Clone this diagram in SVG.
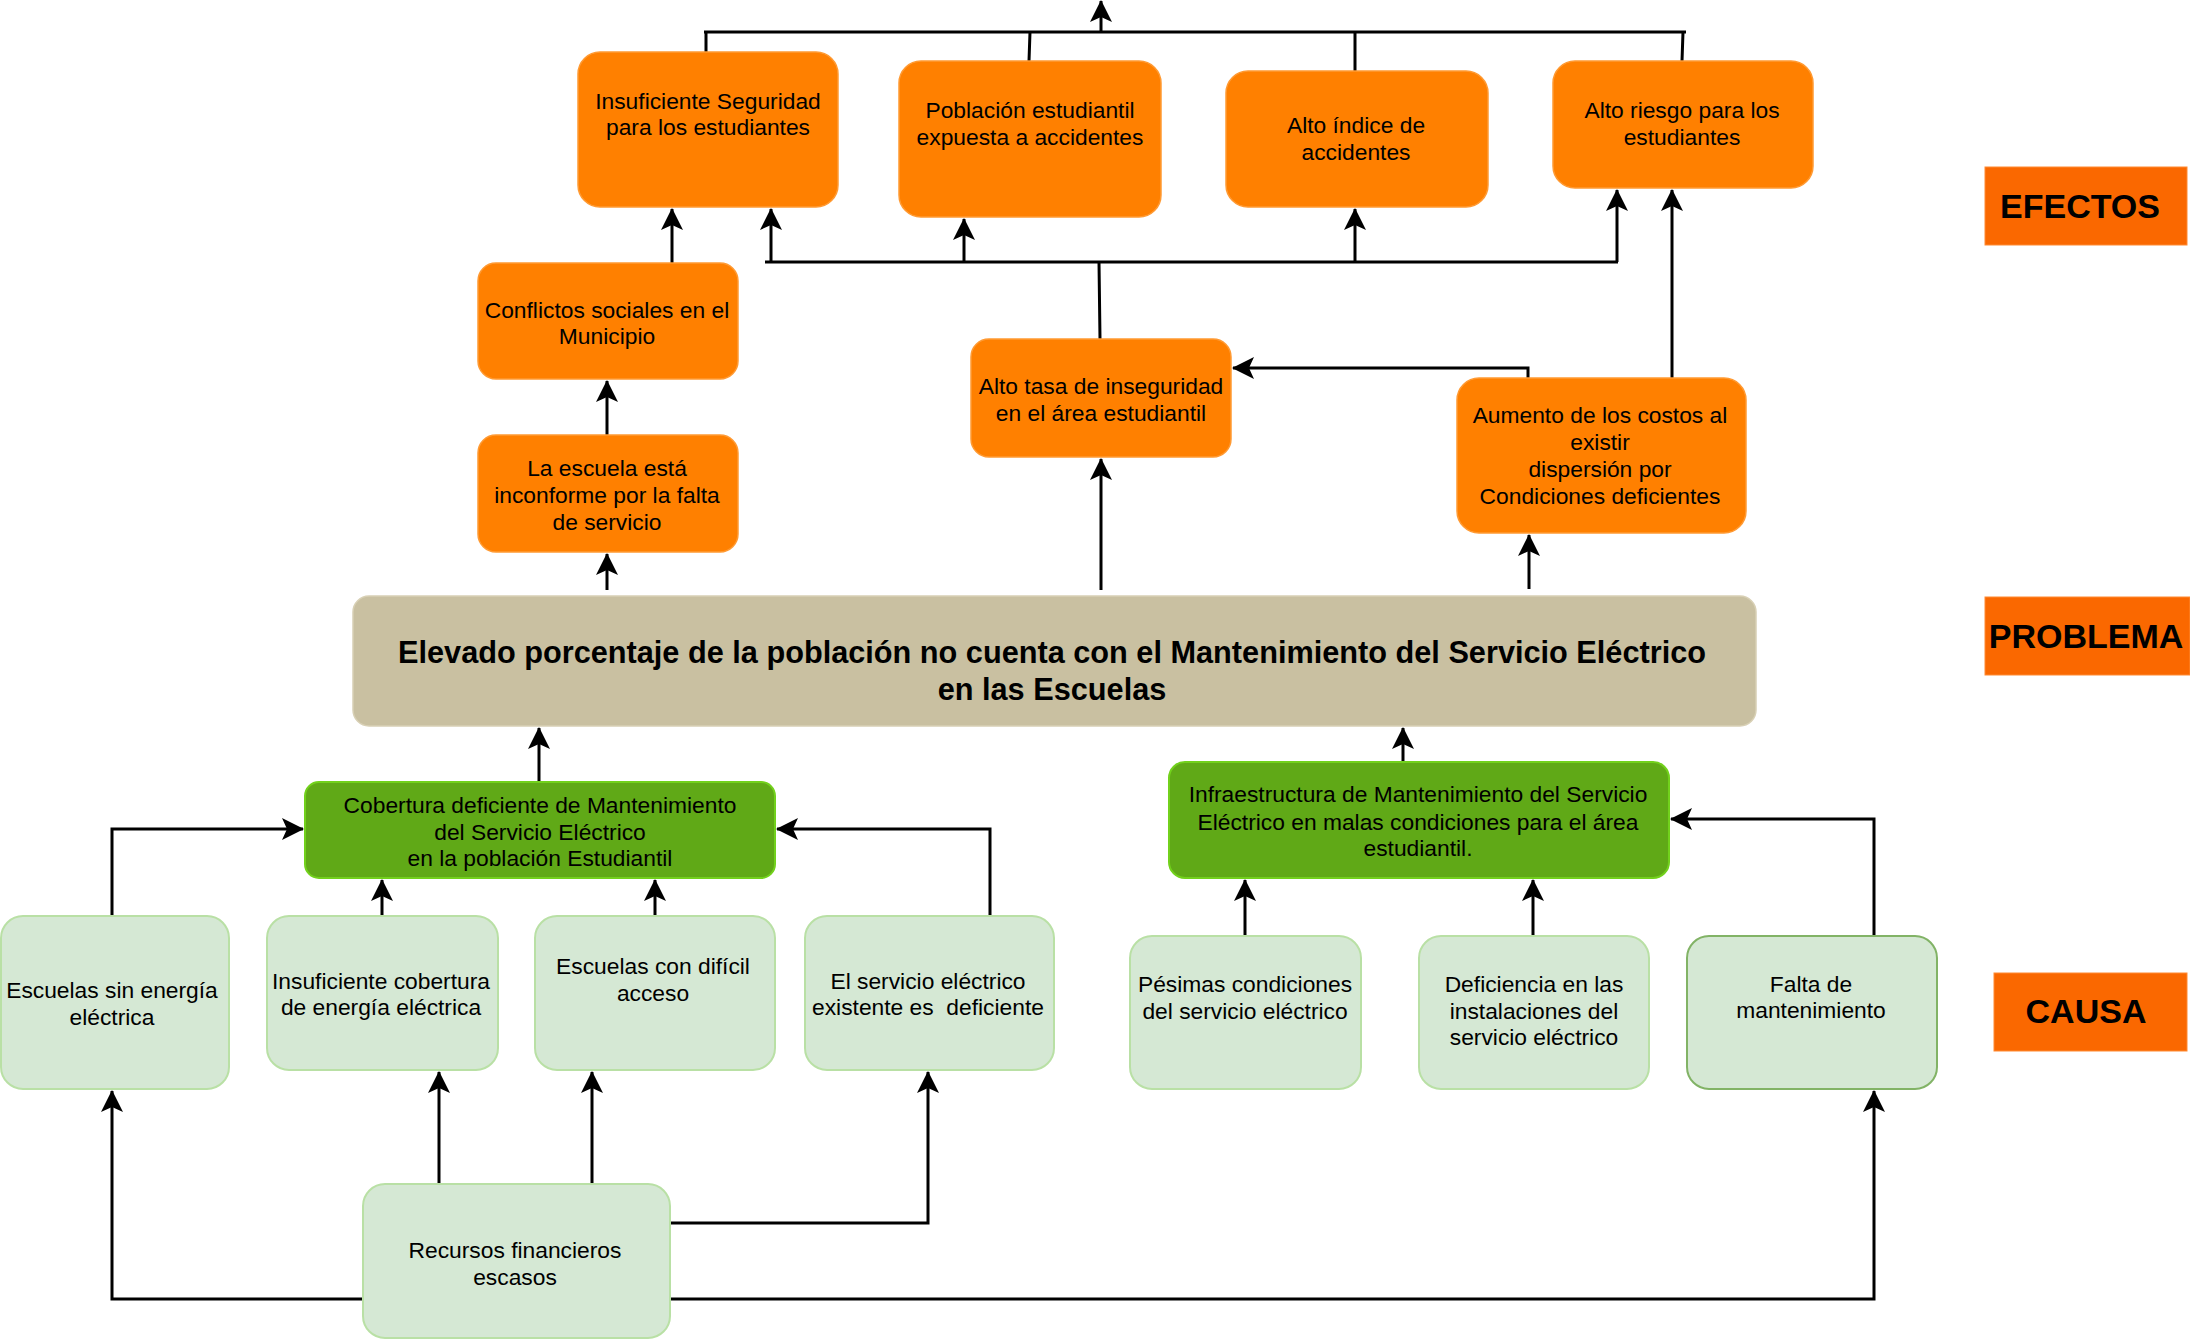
<svg xmlns="http://www.w3.org/2000/svg" width="2190" height="1340" viewBox="0 0 2190 1340">
<style>
.t{font-family:"Liberation Sans",Arial,sans-serif;font-size:22.8px;fill:#000;text-anchor:middle}
.tb{font-family:"Liberation Sans",Arial,sans-serif;font-size:30.7px;font-weight:bold;fill:#000;text-anchor:middle}
.tl{font-family:"Liberation Sans",Arial,sans-serif;font-size:34px;font-weight:bold;fill:#000;text-anchor:middle}
.ef{fill:#ff8000;stroke:#ff9a33;stroke-width:1.5}
.gr{fill:#60a917;stroke:#72d11c;stroke-width:2}
.lg{fill:#d5e8d4;stroke:#b9e0a5;stroke-width:2}
.lg2{fill:#d5e8d4;stroke:#82b366;stroke-width:2}
.pb{fill:#c9c0a1;stroke:#d8d0b5;stroke-width:1.5}
.lb{fill:#fa6800;stroke:#ff8a33;stroke-width:1}
.c{fill:none;stroke:#000;stroke-width:3}
.a{fill:none;stroke:#000;stroke-width:3;marker-end:url(#ar)}
</style>
<defs>
<marker id="ar" viewBox="0 0 22 22" refX="21" refY="11" markerWidth="22" markerHeight="22" markerUnits="userSpaceOnUse" orient="auto">
<path d="M0,0 L22,11 L0,22 L5,11 Z" fill="#000"/>
</marker>
</defs>
<rect width="2190" height="1340" fill="#fff"/>
<g id="connectors">
<path class="c" d="M706,52 L706,32 M1029,61 L1030,32 M1355,71 L1355,32 M1682,61 L1683,32 M704,32 L1686,32"/>
<path class="a" d="M1101,32 L1101,1"/>
<path class="c" d="M1100,339 L1099,262 M765,262 L1618,262"/>
<path class="a" d="M771,262 L771,209"/>
<path class="a" d="M964,262 L964,219"/>
<path class="a" d="M1355,262 L1355,209"/>
<path class="a" d="M1617,262 L1617,190"/>
<path class="a" d="M672,263 L672,209"/>
<path class="a" d="M607,435 L607,381"/>
<path class="a" d="M607,590 L607,554"/>
<path class="a" d="M1101,590 L1101,459"/>
<path class="a" d="M1529,589 L1529,535"/>
<path class="a" d="M1528,378 L1528,368 L1233,368"/>
<path class="a" d="M1672,378 L1672,190"/>
<path class="a" d="M539,782 L539,728"/>
<path class="a" d="M1403,762 L1403,728"/>
<path class="a" d="M112,916 L112,829 L303,829"/>
<path class="a" d="M382,916 L382,880"/>
<path class="a" d="M655,916 L655,880"/>
<path class="a" d="M990,916 L990,829 L777,829"/>
<path class="a" d="M1245,935 L1245,880"/>
<path class="a" d="M1533,935 L1533,880"/>
<path class="a" d="M1874,935 L1874,819 L1671,819"/>
<path class="a" d="M363,1299 L112,1299 L112,1091"/>
<path class="a" d="M439,1184 L439,1072"/>
<path class="a" d="M592,1184 L592,1072"/>
<path class="a" d="M670,1223 L928,1223 L928,1072"/>
<path class="a" d="M670,1299 L1874,1299 L1874,1091"/>
</g>
<g id="e1"><rect class="ef" x="578" y="52" width="260" height="155" rx="22"/><text class="t" x="708" y="109">Insuficiente Seguridad</text><text class="t" x="708" y="135">para los estudiantes</text></g>
<g id="e2"><rect class="ef" x="899" y="61" width="262" height="156" rx="22"/><text class="t" x="1030" y="118">Población estudiantil</text><text class="t" x="1030" y="145">expuesta a accidentes</text></g>
<g id="e3"><rect class="ef" x="1226" y="71" width="262" height="136" rx="22"/><text class="t" x="1356" y="133">Alto índice de</text><text class="t" x="1356" y="160">accidentes</text></g>
<g id="e4"><rect class="ef" x="1553" y="61" width="260" height="127" rx="22"/><text class="t" x="1682" y="118">Alto riesgo para los</text><text class="t" x="1682" y="145">estudiantes</text></g>
<g id="e5"><rect class="ef" x="478" y="263" width="260" height="116" rx="18"/><text class="t" x="607" y="318">Conflictos sociales en el</text><text class="t" x="607" y="344">Municipio</text></g>
<g id="e6"><rect class="ef" x="478" y="435" width="260" height="117" rx="18"/><text class="t" x="607" y="476">La escuela está</text><text class="t" x="607" y="503">inconforme por la falta</text><text class="t" x="607" y="530">de servicio</text></g>
<g id="e7"><rect class="ef" x="971" y="339" width="260" height="118" rx="18"/><text class="t" x="1101" y="394">Alto tasa de inseguridad</text><text class="t" x="1101" y="421">en el área estudiantil</text></g>
<g id="e8"><rect class="ef" x="1457" y="378" width="289" height="155" rx="22"/><text class="t" x="1600" y="423">Aumento de los costos al</text><text class="t" x="1600" y="450">existir</text><text class="t" x="1600" y="477">dispersión por</text><text class="t" x="1600" y="504">Condiciones deficientes</text></g>
<g id="problema"><rect class="pb" x="353" y="596" width="1403" height="130" rx="16"/><text class="tb" x="1052" y="663">Elevado porcentaje de la población no cuenta con el Mantenimiento del Servicio Eléctrico</text><text class="tb" x="1052" y="700">en las Escuelas</text></g>
<g id="c1"><rect class="gr" x="305" y="782" width="470" height="96" rx="14"/><text class="t" x="540" y="813">Cobertura deficiente de Mantenimiento</text><text class="t" x="540" y="840">del Servicio Eléctrico</text><text class="t" x="540" y="866">en la población Estudiantil</text></g>
<g id="c2"><rect class="gr" x="1169" y="762" width="500" height="116" rx="16"/><text class="t" x="1418" y="802">Infraestructura de Mantenimiento del Servicio</text><text class="t" x="1418" y="830">Eléctrico en malas condiciones para el área</text><text class="t" x="1418" y="856">estudiantil.</text></g>
<g id="k1"><rect class="lg" x="1" y="916" width="228" height="173" rx="22"/><text class="t" x="112" y="998">Escuelas sin energía</text><text class="t" x="112" y="1025">eléctrica</text></g>
<g id="k2"><rect class="lg" x="267" y="916" width="231" height="154" rx="22"/><text class="t" x="381" y="989">Insuficiente cobertura</text><text class="t" x="381" y="1015">de energía eléctrica</text></g>
<g id="k3"><rect class="lg" x="535" y="916" width="240" height="154" rx="22"/><text class="t" x="653" y="974">Escuelas con difícil</text><text class="t" x="653" y="1001">acceso</text></g>
<g id="k4"><rect class="lg" x="805" y="916" width="249" height="154" rx="22"/><text class="t" x="928" y="989">El servicio eléctrico</text><text class="t" x="928" y="1015" xml:space="preserve">existente es  deficiente</text></g>
<g id="k5"><rect class="lg" x="1130" y="936" width="231" height="153" rx="22"/><text class="t" x="1245" y="992">Pésimas condiciones</text><text class="t" x="1245" y="1019">del servicio eléctrico</text></g>
<g id="k6"><rect class="lg" x="1419" y="936" width="230" height="153" rx="22"/><text class="t" x="1534" y="992">Deficiencia en las</text><text class="t" x="1534" y="1019">instalaciones del</text><text class="t" x="1534" y="1045">servicio eléctrico</text></g>
<g id="k7"><rect class="lg2" x="1687" y="936" width="250" height="153" rx="22"/><text class="t" x="1811" y="992">Falta de</text><text class="t" x="1811" y="1018">mantenimiento</text></g>
<g id="k8"><rect class="lg" x="363" y="1184" width="307" height="154" rx="22"/><text class="t" x="515" y="1258">Recursos financieros</text><text class="t" x="515" y="1285">escasos</text></g>
<g id="lbl-efectos"><rect class="lb" x="1985" y="167" width="202" height="78"/><text class="tl" x="2080" y="218">EFECTOS</text></g>
<g id="lbl-problema"><rect class="lb" x="1985" y="597" width="205" height="78"/><text class="tl" x="2086" y="648">PROBLEMA</text></g>
<g id="lbl-causa"><rect class="lb" x="1994" y="973" width="193" height="78"/><text class="tl" x="2086" y="1023">CAUSA</text></g>
</svg>
